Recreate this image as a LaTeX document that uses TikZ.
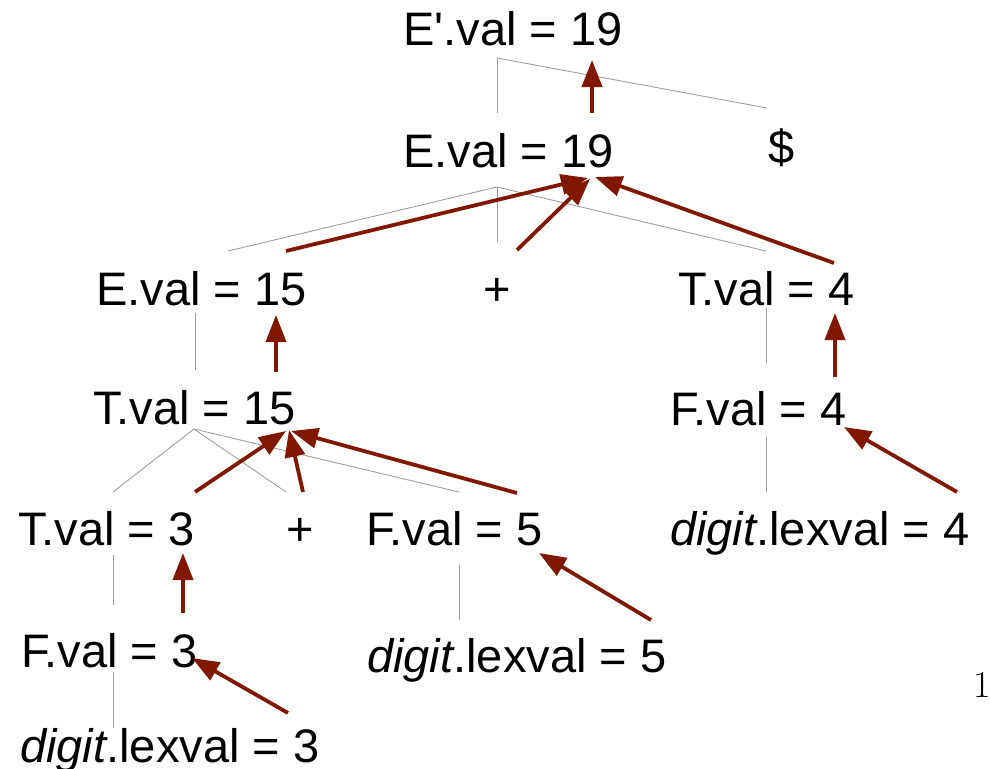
\documentclass[tikz,border=0pt]{standalone}
\usepackage{fontspec}
\setsansfont{Liberation Sans}
\usetikzlibrary{arrows.meta}
\definecolor{darkred}{RGB}{128,24,0}

\tikzset{
 attr/.style={anchor=base west, inner sep=0pt, font=\sffamily\fontsize{47bp}{56bp}\selectfont},
 edge/.style={draw=gray!75, line width=0.9bp},
 flow/.style={draw=darkred, line width=3.8bp, -{Triangle[length=27bp,width=20bp]}},
}

\begin{document}
\begin{tikzpicture}[x=1bp,y=-1bp]
\useasboundingbox (0,0) rectangle (990,769);

% annotated parse tree
\node[attr] (ep)  at (403,46)  {E\textquotesingle.val = 19};
\node[attr] (e19) at (403,167) {E.val = 19};
\node[attr] (dol) at (768,163) {\$};
\node[attr] (e15) at (96,305)  {E.val = 15};
\node[attr,anchor=base] (p1) at (497,305) {+};
\node[attr] (t4)  at (678,305) {T.val = 4};
\node[attr] (t15) at (93,424)  {T.val = 15};
\node[attr] (f4)  at (670,425) {F.val = 4};
\node[attr] (t3)  at (18,545)  {T.val = 3};
\node[attr,anchor=base] (p2) at (300,545) {+};
\node[attr] (f5)  at (366,545) {F.val = 5};
\node[attr] (d4)  at (670,545) {\textit{digit}.lexval = 4};
\node[attr] (f3)  at (21,667)  {F.val = 3};
\node[attr] (d5)  at (367,672) {\textit{digit}.lexval = 5};
\node[attr] (d3)  at (20,762)  {\textit{digit}.lexval = 3};
\node[anchor=base, inner sep=0pt, font=\fontsize{38bp}{44bp}\selectfont] (pg) at (982,697) {1};

% tree edges
\coordinate (ep-f) at (497,58);  \coordinate (e19-up) at (497,113); \coordinate (dol-up) at (767,108);
\coordinate (e19-f) at (497,187); \coordinate (e15-up) at (228,251); \coordinate (p1-up) at (497,242);
\coordinate (t4-up) at (766,251);
\coordinate (e15-f) at (195,313); \coordinate (t15-up) at (195,370);
\coordinate (t4-f) at (766,308);  \coordinate (f4-up) at (766,363);
\coordinate (t15-f) at (194,429); \coordinate (t3-up) at (113,492); \coordinate (p2-up) at (286,492);
\coordinate (f5-up) at (459,492);
\coordinate (f4-f) at (766,437);  \coordinate (d4-up) at (766,492);
\coordinate (t3-f) at (113,555);  \coordinate (f3-up) at (113,605);
\coordinate (f5-f) at (459,565);  \coordinate (d5-up) at (459,620);
\coordinate (f3-f) at (113,672);  \coordinate (d3-up) at (113,728);

\foreach \a/\b in {ep-f/e19-up, ep-f/dol-up, e19-f/e15-up, e19-f/p1-up, e19-f/t4-up,
  e15-f/t15-up, t4-f/f4-up, t15-f/t3-up, t15-f/p2-up, t15-f/f5-up, f4-f/d4-up,
  t3-f/f3-up, f5-f/d5-up, f3-f/d3-up}
  \draw[edge] (\a) -- (\b);

% synthesized values flow upward
\coordinate (e19-out) at (592,113); \coordinate (ep-in) at (592,60);
\coordinate (e15-out) at (286,251); \coordinate (e19-in1) at (588,178);
\coordinate (p1-out) at (517,250);  \coordinate (e19-in2) at (590,179);
\coordinate (t4-out) at (834,263);  \coordinate (e19-in3) at (595,177);
\coordinate (t15-out) at (276,372); \coordinate (e15-in) at (276,315);
\coordinate (f4-out) at (835,377);  \coordinate (t4-in) at (835,313);
\coordinate (t3-out) at (195,492);  \coordinate (t15-in1) at (286,431);
\coordinate (p2-out) at (303,492);  \coordinate (t15-in2) at (289,430);
\coordinate (f5-out) at (517,493);  \coordinate (t15-in3) at (291,431);
\coordinate (d4-out) at (957,492);  \coordinate (f4-in) at (844,427);
\coordinate (f3-out) at (183,613);  \coordinate (t3-in) at (183,553);
\coordinate (d5-out) at (651,620);  \coordinate (f5-in) at (539,553);
\coordinate (d3-out) at (288,713);  \coordinate (f3-in) at (192,658);

\foreach \a/\b in {e19-out/ep-in, e15-out/e19-in1, p1-out/e19-in2, t4-out/e19-in3,
  t15-out/e15-in, f4-out/t4-in, t3-out/t15-in1, p2-out/t15-in2, f5-out/t15-in3,
  d4-out/f4-in, f3-out/t3-in, d5-out/f5-in, d3-out/f3-in}
  \draw[flow] (\a) -- (\b);

\end{tikzpicture}
\end{document}
